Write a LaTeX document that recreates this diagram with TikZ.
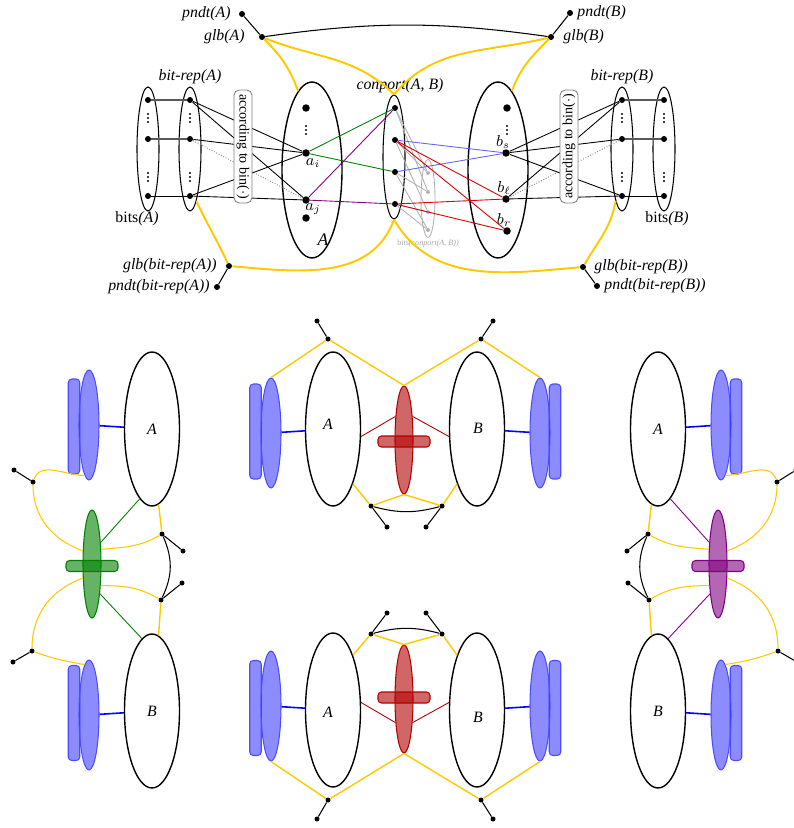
\documentclass[tikz,border=0pt]{standalone}
\usepackage{fontspec}
\setmainfont{Liberation Serif}
\usetikzlibrary{shapes.geometric, positioning}

\definecolor{glbyellow}{RGB}{255,200,0}
\definecolor{linkgreen}{RGB}{0,128,0}
\definecolor{linkpurple}{RGB}{128,0,128}
\definecolor{linkred}{RGB}{220,0,0}
\definecolor{linkblue}{RGB}{100,100,240}
\definecolor{conred}{RGB}{178,0,0}

% three small dots for the elided elements
\newcommand{\vdotsat}[2]{\foreach \k in {0,1,2} \fill (#1,#2+4-4*\k) circle (0.6pt);}

\begin{document}
\begin{tikzpicture}[x=0.02cm, y=0.02cm]
    \tikzstyle{dot}      = [circle, fill=black, inner sep=0pt, minimum size=0.12cm]
    \tikzstyle{bigdot}   = [circle, fill=black, inner sep=0pt, minimum size=0.15cm]
    \tikzstyle{sdot}     = [circle, fill=black, inner sep=0pt, minimum size=0.1cm]
    \tikzstyle{bitdot}   = [circle, fill=gray!60, inner sep=0pt, minimum size=0.08cm]
    \tikzstyle{setell}   = [ellipse, draw=black, line width=0.8pt, inner sep=0pt, minimum width=1.2cm, minimum height=3.52cm]
    \tikzstyle{bitell}   = [ellipse, draw=black, line width=0.6pt, inner sep=0pt, minimum width=0.44cm, minimum height=2.48cm]
    \tikzstyle{cpbits}   = [ellipse, draw=gray!60, line width=0.5pt, inner sep=0pt, minimum width=0.28cm, minimum height=1.56cm]
    \tikzstyle{binbox}   = [rectangle, rounded corners=3pt, draw=gray, line width=0.5pt, fill=white, minimum width=2.26cm, minimum height=0.36cm, inner sep=1pt, font=\footnotesize]
    \tikzstyle{lbl}      = [inner sep=1pt, font=\small\itshape]
    \tikzstyle{rep}      = [line width=0.5pt]
    \tikzstyle{bitline}  = [line width=0.9pt, gray!70!black]
    \tikzstyle{maybe}    = [densely dotted, gray, line width=0.5pt]
    \tikzstyle{glbline}  = [line width=1.1pt, glbyellow]
    \tikzstyle{pendant}  = [line width=0.6pt]
    \tikzstyle{bitsof}   = [line width=0.5pt, gray!60]
    \tikzstyle{pset}     = [ellipse, draw=black, line width=0.8pt, inner sep=0pt, minimum width=1.1cm, minimum height=3.08cm, font=\small\itshape]
    \tikzstyle{bitsell}  = [ellipse, draw=blue!70, line width=0.6pt, fill=blue, fill opacity=0.45, inner sep=0pt, minimum width=0.4cm, minimum height=2.2cm]
    \tikzstyle{bitsrect} = [rectangle, rounded corners=2pt, draw=blue!70, line width=0.6pt, fill=blue, fill opacity=0.45, inner sep=0pt, minimum width=0.23cm, minimum height=1.9cm]
    \tikzstyle{conell}   = [ellipse, line width=0.6pt, fill opacity=0.6, inner sep=0pt, minimum width=0.36cm, minimum height=2.16cm]
    \tikzstyle{conrect}  = [rectangle, rounded corners=2pt, line width=0.6pt, fill opacity=0.6, inner sep=0pt, minimum width=1.04cm, minimum height=0.22cm]
    \tikzstyle{bline}    = [line width=0.9pt, blue]
    \tikzstyle{plink}    = [line width=0.8pt, glbyellow]
    \tikzstyle{pcurve}   = [line width=0.6pt, glbyellow]

    \useasboundingbox (0,0) rectangle (794,-828);

    % ---------------- Top: A, B and conport(A, B) ----------------

    % bits(A) and bit-rep(A)
    \node [bitell] (bitsA) at (148,-149) {};
    \node [bitell] (brepA) at (190,-149) {};
    \node [dot] (bA1) at (148,-100) {};
    \node [dot] (bA2) at (148,-139) {};
    \node [dot] (bA3) at (148,-196) {};
    \node [dot] (rA1) at (190,-100) {};
    \node [dot] (rA2) at (190,-139) {};
    \node [dot] (rA3) at (190,-196) {};
    \vdotsat{148}{-118} \vdotsat{148}{-177}
    \vdotsat{190}{-118} \vdotsat{190}{-177}
    \node [lbl, above=0.02cm of brepA] (brepAlbl) {bit-rep(A)};
    \node [lbl, font=\small] (bitsAlbl) at (137,-219) {bits\textit{(A)}};

    % set A
    \node [setell] (EA) at (312,-170) {};
    \node [bigdot] (aT) at (306,-108) {};
    \vdotsat{306}{-130}
    \node [bigdot] (ai) at (306,-153) {};
    \node [bigdot] (aj) at (306,-200) {};
    \node [bigdot] (aB) at (306,-218) {};
    \node [lbl] (ailbl) at (313,-163) {$a_i$};
    \node [lbl] (ajlbl) at (313,-209) {$a_j$};
    \node [lbl, font=\normalsize\itshape] (EAlbl) at (323,-240) {A};

    % conport(A, B) and its bits
    \node [bitell] (CP) at (394,-157) {};
    \node [dot] (c1) at (395,-108) {};
    \node [dot] (c2) at (395,-140) {};
    \node [dot] (c3) at (395,-172) {};
    \node [dot] (c4) at (395,-204) {};
    \node [lbl, above=0.0cm of CP, xshift=0.12cm] (CPlbl) {conport(A, B)};
    \node [cpbits] (bitsCP) at (428,-198.5) {};
    \node [bitdot] (g1) at (428,-173) {};
    \node [bitdot] (g2) at (428,-192) {};
    \node [bitdot] (g3) at (428,-212) {};
    \node [bitdot] (g4) at (428,-230) {};
    \node [inner sep=0pt, text=gray!70, font=\fontsize{4.6}{5}\selectfont] (bitsCPlbl) at (428,-244) {bits\textit{(conport(A, B))}};

    % set B
    \node [setell] (EB) at (498,-170) {};
    \node [bigdot] (bT) at (507,-108) {};
    \vdotsat{507}{-130}
    \node [bigdot] (bs) at (506,-153) {};
    \node [bigdot] (bl) at (506,-199) {};
    \node [bigdot] (br) at (507,-231) {};
    \node [lbl] (bslbl) at (503,-142) {$b_s$};
    \node [lbl] (bllbl) at (504,-188) {$b_\ell$};
    \node [lbl] (brlbl) at (504,-220) {$b_r$};

    % bit-rep(B) and bits(B)
    \node [bitell] (brepB) at (622,-149) {};
    \node [bitell] (bitsB) at (664,-149) {};
    \node [dot] (rB1) at (622,-100) {};
    \node [dot] (rB2) at (622,-139) {};
    \node [dot] (rB3) at (622,-196) {};
    \node [dot] (bB1) at (664,-100) {};
    \node [dot] (bB2) at (664,-139) {};
    \node [dot] (bB3) at (664,-196) {};
    \vdotsat{622}{-118} \vdotsat{622}{-177}
    \vdotsat{664}{-118} \vdotsat{664}{-177}
    \node [lbl, above=0.02cm of brepB] (brepBlbl) {bit-rep(B)};
    \node [lbl, font=\small] (bitsBlbl) at (667,-219) {bits\textit{(B)}};

    % glb and pndt
    \node [dot] (glbA) at (262,-37) {};
    \node [dot] (pndtA) at (242,-14) {};
    \node [dot] (glbB) at (551,-37) {};
    \node [dot] (pndtB) at (570,-13) {};
    \node [dot] (glbBRA) at (229,-266) {};
    \node [dot] (pndtBRA) at (217,-287) {};
    \node [dot] (glbBRB) at (583,-267) {};
    \node [dot] (pndtBRB) at (597,-286) {};
    \node [lbl, left=0.12cm of pndtA] (pndtAlbl) {pndt(A)};
    \node [lbl, left=0.24cm of glbA] (glbAlbl) {glb(A)};
    \node [lbl, right=0.04cm of pndtB] (pndtBlbl) {pndt(B)};
    \node [lbl, right=0.14cm of glbB] (glbBlbl) {glb(B)};
    \node [lbl, left=0.14cm of glbBRA] (glbBRAlbl) {glb(bit-rep(A))};
    \node [lbl, left=0.04cm of pndtBRA] (pndtBRAlbl) {pndt(bit-rep(A))};
    \node [lbl, right=0.12cm of glbBRB] (glbBRBlbl) {glb(bit-rep(B))};
    \node [lbl, right=0.04cm of pndtBRB] (pndtBRBlbl) {pndt(bit-rep(B))};

    % bit representation lines
    \draw [bitline] (bA1) -- (rA1);
    \draw [bitline] (bA2) -- (rA2);
    \draw [rep] (bA3) -- (rA3);
    \draw [rep] (rA1) -- (ai);
    \draw [rep] (rA1) -- (aj);
    \draw [rep] (rA2) -- (ai);
    \draw [maybe] (rA2) -- (aj);
    \draw [rep] (rA3) -- (ai);
    \draw [rep] (rA3) -- (aj);
    \draw [bitline] (bB1) -- (rB1);
    \draw [bitline] (bB2) -- (rB2);
    \draw [rep] (bB3) -- (rB3);
    \draw [rep] (rB1) -- (bs);
    \draw [rep] (rB1) -- (bl);
    \draw [rep] (rB2) -- (bs);
    \draw [maybe] (rB2) -- (bl);
    \draw [rep] (rB3) -- (bs);
    \draw [rep] (rB3) -- (bl);
    \node [binbox, rotate=-90] (binA) at (243,-146.5) {according to bin($\cdot$)};
    \node [binbox, rotate=90] (binB) at (569,-146.5) {according to bin($\cdot$)};

    % conport links
    \draw [bitsof] (c1) -- (g1);
    \draw [bitsof] (c1) -- (g2);
    \draw [bitsof] (c2) -- (g1);
    \draw [bitsof] (c2) -- (g3);
    \draw [bitsof] (c3) -- (g2);
    \draw [bitsof] (c3) -- (g4);
    \draw [bitsof] (c4) -- (g3);
    \draw [bitsof] (c4) -- (g4);
    \draw [rep, linkgreen] (ai) -- (c1);
    \draw [rep, linkgreen] (ai) -- (c3);
    \draw [rep, linkpurple] (aj) -- (c1);
    \draw [rep, linkpurple] (aj) -- (c4);
    \draw [rep, linkblue] (c2) -- (bs);
    \draw [rep, linkblue] (c3) -- (bs);
    \draw [rep, linkred] (c2) -- (bl);
    \draw [rep, linkred] (c2) -- (br);
    \draw [rep, linkred] (c4) -- (bl);
    \draw [rep, linkred] (c4) -- (br);

    % glb curves
    \draw [pendant] (pndtA) -- (glbA);
    \draw [pendant] (pndtB) -- (glbB);
    \draw [pendant] (pndtBRA) -- (glbBRA);
    \draw [pendant] (pndtBRB) -- (glbBRB);
    \draw [pendant] (glbA) to[bend left=8] (glbB);
    \draw [glbline] (glbA) to[out=-45, in=110] (EA.100);
    \draw [glbline] (glbA) to[out=-22, in=135] (CP.north);
    \draw [glbline] (glbB) to[out=-166, in=50] (CP.north);
    \draw [glbline] (glbB) to[out=-135, in=70] (EB.80);
    \draw [glbline] (brepA.277) to[out=-65, in=115] (glbBRA);
    \draw [glbline] (glbBRA) to[out=-5, in=250] (CP.south);
    \draw [glbline] (CP.south) to[out=-60, in=185] (glbBRB);
    \draw [glbline] (glbBRB) to[out=60, in=-100] (brepB.263);

    % ---------------- Bottom left: green conport ----------------
    \node [bitsrect] (LrA) at (74,-426.5) {};
    \node [bitsell] (LbA) at (89,-425) {};
    \node [pset] (LA) at (152,-429) {A};
    \node [bitsrect] (LrB) at (74,-713) {};
    \node [bitsell] (LbB) at (89,-715) {};
    \node [pset] (LB) at (152,-711) {B};
    \node [conell, draw=linkgreen, fill=linkgreen] (LG) at (92,-564) {};
    \node [conrect, draw=linkgreen, fill=linkgreen] (LGr) at (92,-566) {};
    \node [sdot] (glbL1) at (33,-482) {};
    \node [sdot] (pndtL1) at (14,-470) {};
    \node [sdot] (glbL2) at (162,-534) {};
    \node [sdot] (pndtL2) at (183,-551) {};
    \node [sdot] (glbL3) at (161,-600) {};
    \node [sdot] (pndtL3) at (182,-583) {};
    \node [sdot] (glbL4) at (32,-651) {};
    \node [sdot] (pndtL4) at (13,-662) {};

    \draw [bline] (LbA) -- (LA);
    \draw [bline] (LbB) -- (LB);
    \draw [rep, linkgreen] (LA.260) -- (LG.68);
    \draw [rep, linkgreen] (LB.98) -- (LG.285);
    \draw [pendant] (pndtL1) -- (glbL1);
    \draw [pendant] (pndtL2) -- (glbL2);
    \draw [pendant] (pndtL3) -- (glbL3);
    \draw [pendant] (pndtL4) -- (glbL4);
    \draw [pendant] (glbL2) to[bend left=25] (glbL3);
    \draw [pcurve] (glbL1) to[out=70, in=180] (LbA.265);
    \draw [pcurve] (glbL1) to[out=-90, in=160] (LG.125);
    \draw [pcurve] (glbL2) to[out=-150, in=5] (LG.58);
    \draw [pcurve] (glbL3) to[out=150, in=0] (LG.292);
    \draw [pcurve] (glbL4) to[out=90, in=200] (LG.237);
    \draw [pcurve] (glbL4) to[out=-20, in=170] (LbB.95);
    \draw [plink] (glbL2) -- (LA.275);
    \draw [plink] (glbL3) -- (LB.85);

    % ---------------- Bottom right: purple conport ----------------
    \node [bitsrect] (RrA) at (736,-426.5) {};
    \node [bitsell] (RbA) at (721,-425) {};
    \node [pset] (RA) at (658,-429) {A};
    \node [bitsrect] (RrB) at (736,-713) {};
    \node [bitsell] (RbB) at (721,-715) {};
    \node [pset] (RB) at (658,-711) {B};
    \node [conell, draw=linkpurple, fill=linkpurple] (RP) at (718,-564) {};
    \node [conrect, draw=linkpurple, fill=linkpurple] (RPr) at (718,-566) {};
    \node [sdot] (glbR1) at (777,-482) {};
    \node [sdot] (pndtR1) at (796,-470) {};
    \node [sdot] (glbR2) at (648,-534) {};
    \node [sdot] (pndtR2) at (627,-551) {};
    \node [sdot] (glbR3) at (649,-600) {};
    \node [sdot] (pndtR3) at (628,-583) {};
    \node [sdot] (glbR4) at (778,-651) {};
    \node [sdot] (pndtR4) at (797,-662) {};

    \draw [bline] (RbA) -- (RA);
    \draw [bline] (RbB) -- (RB);
    \draw [rep, linkpurple] (RA.280) -- (RP.112);
    \draw [rep, linkpurple] (RB.82) -- (RP.255);
    \draw [pendant] (pndtR1) -- (glbR1);
    \draw [pendant] (pndtR2) -- (glbR2);
    \draw [pendant] (pndtR3) -- (glbR3);
    \draw [pendant] (pndtR4) -- (glbR4);
    \draw [pendant] (glbR2) to[bend right=25] (glbR3);
    \draw [pcurve] (glbR1) to[out=110, in=0] (RbA.275);
    \draw [pcurve] (glbR1) to[out=-90, in=20] (RP.55);
    \draw [pcurve] (glbR2) to[out=-30, in=175] (RP.122);
    \draw [pcurve] (glbR3) to[out=30, in=180] (RP.248);
    \draw [pcurve] (glbR4) to[out=90, in=-20] (RP.303);
    \draw [pcurve] (glbR4) to[out=-160, in=10] (RbB.85);
    \draw [plink] (glbR2) -- (RA.265);
    \draw [plink] (glbR3) -- (RB.95);

    % ---------------- Middle top: red conport ----------------
    \node [bitsrect] (MTrA) at (255.5,-431.5) {};
    \node [bitsell] (MTbA) at (271,-433) {};
    \node [pset] (MTA) at (333,-429) {};
    \node [bitsrect] (MTrB) at (555,-431.5) {};
    \node [bitsell] (MTbB) at (540,-433) {};
    \node [pset] (MTB) at (477,-429) {};
    \node [lbl] (MTAlbl) at (328,-424) {A};
    \node [lbl] (MTBlbl) at (478,-428) {B};
    \node [conell, draw=conred, fill=conred] (MTR) at (404,-440) {};
    \node [conrect, draw=conred, fill=conred] (MTRr) at (404,-441.5) {};
    \node [sdot] (glbMT1) at (328,-339) {};
    \node [sdot] (pndtMT1) at (317,-321) {};
    \node [sdot] (glbMT2) at (481,-339) {};
    \node [sdot] (pndtMT2) at (493,-321) {};
    \node [sdot] (glbMT3) at (371,-506) {};
    \node [sdot] (pndtMT3) at (387,-527) {};
    \node [sdot] (glbMT4) at (442,-506) {};
    \node [sdot] (pndtMT4) at (426,-527) {};

    \draw [bline] (MTbA) -- (MTA);
    \draw [bline] (MTbB) -- (MTB);
    \draw [rep, conred] (MTA.-15) -- (MTR.110);
    \draw [rep, conred] (MTB.195) -- (MTR.70);
    \draw [pendant] (pndtMT1) -- (glbMT1);
    \draw [pendant] (pndtMT2) -- (glbMT2);
    \draw [pendant] (pndtMT3) -- (glbMT3);
    \draw [pendant] (pndtMT4) -- (glbMT4);
    \draw [pendant] (glbMT3) to[bend right=15] (glbMT4);
    \draw [plink] (glbMT1) -- (MTbA.north);
    \draw [plink] (glbMT1) -- (MTR.north);
    \draw [plink] (glbMT2) -- (MTR.north);
    \draw [plink] (glbMT2) -- (MTbB.north);
    \draw [plink] (glbMT3) -- (MTA.290);
    \draw [plink] (glbMT3) -- (MTR.south);
    \draw [plink] (glbMT4) -- (MTR.south);
    \draw [plink] (glbMT4) -- (MTB.250);

    % ---------------- Middle bottom: red conport ----------------
    \node [bitsrect] (MBrA) at (255.5,-708) {};
    \node [bitsell] (MBbA) at (271,-706) {};
    \node [pset] (MBA) at (333,-710) {};
    \node [bitsrect] (MBrB) at (555,-708) {};
    \node [bitsell] (MBbB) at (540,-706) {};
    \node [pset] (MBB) at (477,-710) {};
    \node [lbl] (MBAlbl) at (328,-712) {A};
    \node [lbl] (MBBlbl) at (478,-717) {B};
    \node [conell, draw=conred, fill=conred] (MBR) at (404,-699) {};
    \node [conrect, draw=conred, fill=conred] (MBRr) at (404,-697.5) {};
    \node [sdot] (glbMB1) at (371,-634) {};
    \node [sdot] (pndtMB1) at (387,-613) {};
    \node [sdot] (glbMB2) at (442,-634) {};
    \node [sdot] (pndtMB2) at (426,-613) {};
    \node [sdot] (glbMB3) at (328,-800) {};
    \node [sdot] (pndtMB3) at (317,-819) {};
    \node [sdot] (glbMB4) at (481,-800) {};
    \node [sdot] (pndtMB4) at (493,-819) {};

    \draw [bline] (MBbA) -- (MBA);
    \draw [bline] (MBbB) -- (MBB);
    \draw [rep, conred] (MBA.15) -- (MBR.250);
    \draw [rep, conred] (MBB.165) -- (MBR.290);
    \draw [pendant] (pndtMB1) -- (glbMB1);
    \draw [pendant] (pndtMB2) -- (glbMB2);
    \draw [pendant] (pndtMB3) -- (glbMB3);
    \draw [pendant] (pndtMB4) -- (glbMB4);
    \draw [pendant] (glbMB1) to[bend left=15] (glbMB2);
    \draw [plink] (glbMB1) -- (MBA.70);
    \draw [plink] (glbMB1) -- (MBR.north);
    \draw [plink] (glbMB2) -- (MBR.north);
    \draw [plink] (glbMB2) -- (MBB.110);
    \draw [plink] (glbMB3) -- (MBbA.south);
    \draw [plink] (glbMB3) -- (MBR.south);
    \draw [plink] (glbMB4) -- (MBR.south);
    \draw [plink] (glbMB4) -- (MBbB.south);

\end{tikzpicture}
\end{document}
